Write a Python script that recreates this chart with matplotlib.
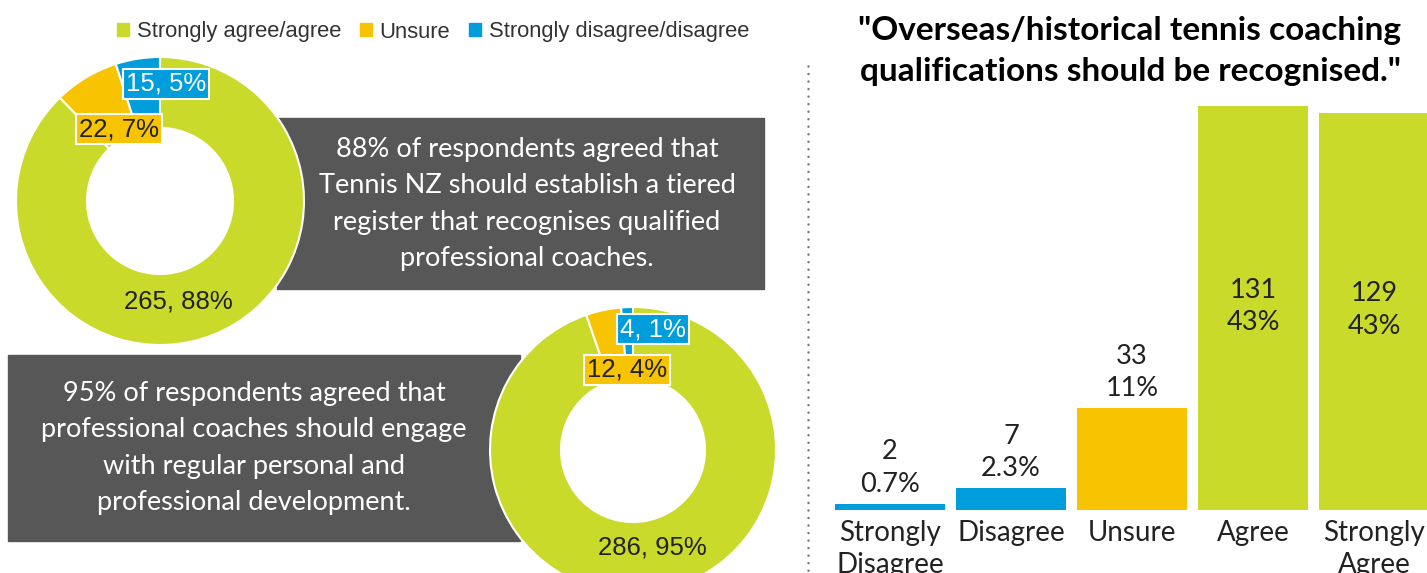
import matplotlib.pyplot as plt
from matplotlib.patches import Rectangle, Patch
from matplotlib.lines import Line2D

#
# data
#
group_labels = ['Strongly agree/agree', 'Unsure', 'Strongly disagree/disagree']
group_colors = ['#C9DA2B', '#F8C300', '#009DDC']

register_counts = [265, 22, 15]
register_pcts = [88, 7, 5]

development_counts = [286, 12, 4]
development_pcts = [95, 4, 1]

bar_categories = ['Strongly\nDisagree', 'Disagree', 'Unsure', 'Agree', 'Strongly\nAgree']
bar_counts = [2, 7, 33, 131, 129]
bar_pcts = ['0.7%', '2.3%', '11%', '43%', '43%']
bar_colors = ['#009DDC', '#009DDC', '#F8C300', '#C9DA2B', '#C9DA2B']

register_text = ('88% of respondents agreed that\nTennis NZ should establish a tiered\n'
                 'register that recognises qualified\nprofessional coaches.')
development_text = ('95% of respondents agreed that\nprofessional coaches should engage\n'
                    'with regular personal and\nprofessional development.')
bar_title = '"Overseas/historical tennis coaching\nqualifications should be recognised."'

W, H = 1427, 573
GREY = '#575757'
DARK = '#222222'

fig = plt.figure(figsize=(W / 100, H / 100), dpi=100)

# overlay axes in pixel units (y flipped so numbers read like the picture)
ax = fig.add_axes([0, 0, 1, 1])
def Y(y):
    return H - y

# grey text boxes, behind the donuts
ax.add_patch(Rectangle((277, Y(289)), 764 - 277, 289 - 118, color=GREY, zorder=0.5))
ax.add_patch(Rectangle((8, Y(541)), 520 - 8, 541 - 355, color=GREY, zorder=0.5))

ax.text(527, Y(204), register_text, ha='center', va='center', color='white',
        fontsize=19.5, family='Lato', linespacing=1.56, zorder=3)
ax.text(254, Y(448), development_text, ha='center', va='center', color='white',
        fontsize=19.5, family='Lato', linespacing=1.56, zorder=3)

#
# donuts
#
def donut(counts, center, radius, hole):
    ax.pie(counts, colors=group_colors, startangle=90, counterclock=False,
           radius=radius, center=center, frame=True,
           wedgeprops=dict(width=radius - hole, edgecolor='white', linewidth=1.5))

donut(register_counts, (160, Y(201)), 144, 73)
donut(development_counts, (633, Y(450)), 143, 72)

def box_label(x, y, text, color, textcolor):
    ax.text(x, Y(y), text, ha='center', va='center', fontsize=18.5, color=textcolor,
            family='Liberation Sans', zorder=4,
            bbox=dict(boxstyle='square,pad=0.13', fc=color, ec='white', lw=1.5))

def fmt(c, p):
    return str(c) + ', ' + str(p) + '%'

box_label(166, 84, fmt(register_counts[2], register_pcts[2]), group_colors[2], 'white')
box_label(119, 129, fmt(register_counts[1], register_pcts[1]), group_colors[1], DARK)
ax.text(178, Y(302), fmt(register_counts[0], register_pcts[0]), ha='center', va='center',
        fontsize=18.5, color=DARK, family='Liberation Sans', zorder=4)

box_label(653, 329, fmt(development_counts[2], development_pcts[2]), group_colors[2], 'white')
box_label(627, 370, fmt(development_counts[1], development_pcts[1]), group_colors[1], DARK)
ax.text(652, Y(548), fmt(development_counts[0], development_pcts[0]), ha='center', va='center',
        fontsize=18.5, color=DARK, family='Liberation Sans', zorder=4)

# legend for the donuts
handles = [Patch(color=c, label=l) for c, l in zip(group_colors, group_labels)]
ax.legend(handles=handles, loc='center', bbox_to_anchor=(433 / W, 1 - 32 / H),
          bbox_transform=fig.transFigure, ncol=3, frameon=False,
          handlelength=0.55, handleheight=0.55, handletextpad=0.35, columnspacing=0.85,
          prop={'family': 'Liberation Sans', 'size': 15.8}, labelcolor='#333333')

# dotted separator
ax.add_line(Line2D([808, 808], [Y(66), Y(573)], color='#777777', lw=1.8,
                   linestyle=(0, (0.01, 3.0)), dash_capstyle='round'))

ax.text(1130, Y(51), bar_title, ha='center', va='center', fontsize=24,
        family='Lato', fontweight='bold', color='black', linespacing=1.5)

ax.set_xlim(0, W)
ax.set_ylim(0, H)
ax.set_aspect('auto')
ax.axis('off')

#
# bar chart
#
bx = fig.add_axes([829.5 / W, (H - 510) / H, (W - 829.5) / W, 410 / H])
x = range(len(bar_counts))
bars = bx.bar(x, bar_counts, width=0.91, color=bar_colors)
bx.set_xlim(-0.5, 4.438)
bx.set_ylim(0, 133.1)
for s in bx.spines.values():
    s.set_visible(False)
bx.set_yticks([])
bx.set_xticks(list(x))
bx.set_xticklabels(bar_categories, fontsize=20, family='Lato', color=DARK, linespacing=1.3)
bx.tick_params(axis='x', length=0, pad=7)

for i, (c, p) in enumerate(zip(bar_counts, bar_pcts)):
    if c > 60:
        bx.text(i, c / 2 + 0.5, str(c) + '\n' + p, ha='center', va='center', fontsize=19.5,
                family='Lato', color=DARK, linespacing=1.38)
    else:
        bx.annotate(str(c) + '\n' + p, (i, c), xytext=(0, 5), textcoords='offset points',
                    ha='center', va='bottom', fontsize=19.5, family='Lato', color=DARK,
                    linespacing=1.38)

fig.savefig('out.png', dpi=100)
